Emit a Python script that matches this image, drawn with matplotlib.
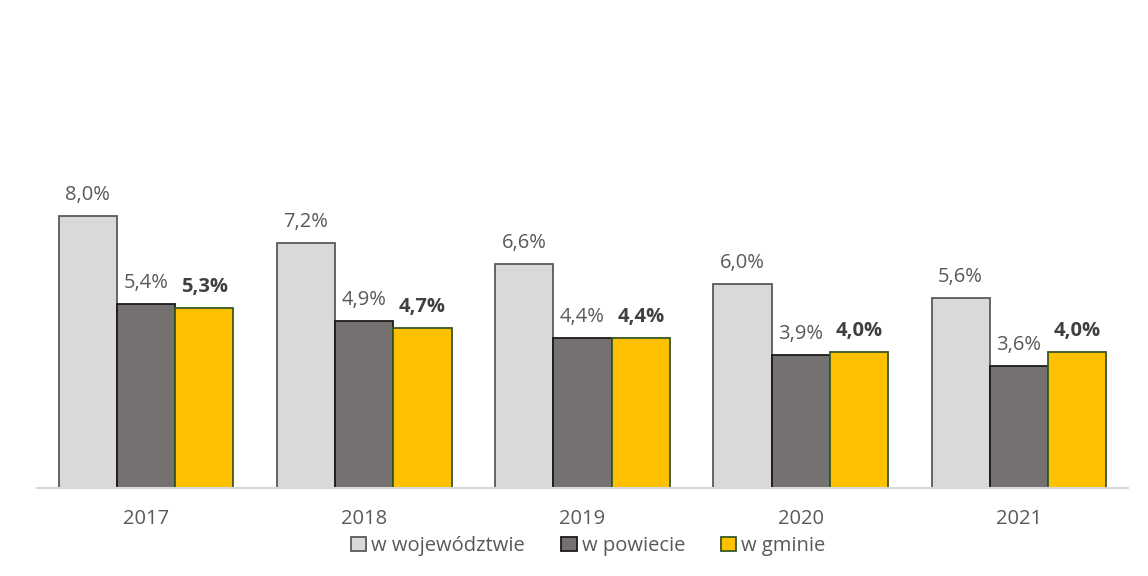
import matplotlib.pyplot as plt
import numpy as np

# data
years = ['2017', '2018', '2019', '2020', '2021']
wojewodztwo = [8.0, 7.2, 6.6, 6.0, 5.6]
powiat = [5.4, 4.9, 4.4, 3.9, 3.6]
gmina = [5.3, 4.7, 4.4, 4.0, 4.0]
names = ['w województwie', 'w powiecie', 'w gminie']

plt.rcParams['font.family'] = ['Open Sans', 'DejaVu Sans']

fig = plt.figure(figsize=(11.48, 5.76), dpi=100)
ax = fig.add_axes([0.0322, 0.1528, 0.9504, 0.59])

x = np.arange(len(years))
w = 0.267
series = [
    (wojewodztwo, '#D9D9D9', '#595959', 'normal'),
    (powiat, '#767171', '#1a1a1a', 'normal'),
    (gmina, '#FFC000', '#385723', 'bold'),
]
for i, (vals, fc, ec, fw) in enumerate(series):
    pos = x + (i - 1) * w
    ax.bar(pos, vals, width=w, color=fc, edgecolor=ec, linewidth=1.3,
           label=names[i], zorder=2)
    for p, v in zip(pos, vals):
        ax.annotate(f'{v:.1f}%'.replace('.', ','), (p, v), xytext=(0, 8),
                    textcoords='offset points', ha='center', va='bottom',
                    fontsize=14.5, fontweight=fw,
                    color='#404040' if fw == 'bold' else '#595959')

ax.set_xlim(-0.5, 4.5)
ax.set_ylim(0, 10)
ax.set_xticks(x)
ax.set_xticklabels(years, fontsize=14.5, color='#595959')
ax.tick_params(axis='x', length=0, pad=15)
ax.set_yticks([])
for s in ['top', 'right', 'left']:
    ax.spines[s].set_visible(False)
ax.spines['bottom'].set_color('#D9D9D9')
ax.spines['bottom'].set_linewidth(1.5)

leg = fig.legend(loc='center', bbox_to_anchor=(0.5126, 0.052), ncol=3, frameon=False,
                 fontsize=14.5, handlelength=0.75, handleheight=0.75, handletextpad=0.25,
                 columnspacing=1.8)
for t in leg.get_texts():
    t.set_color('#595959')

plt.savefig('out.png', dpi=100)
